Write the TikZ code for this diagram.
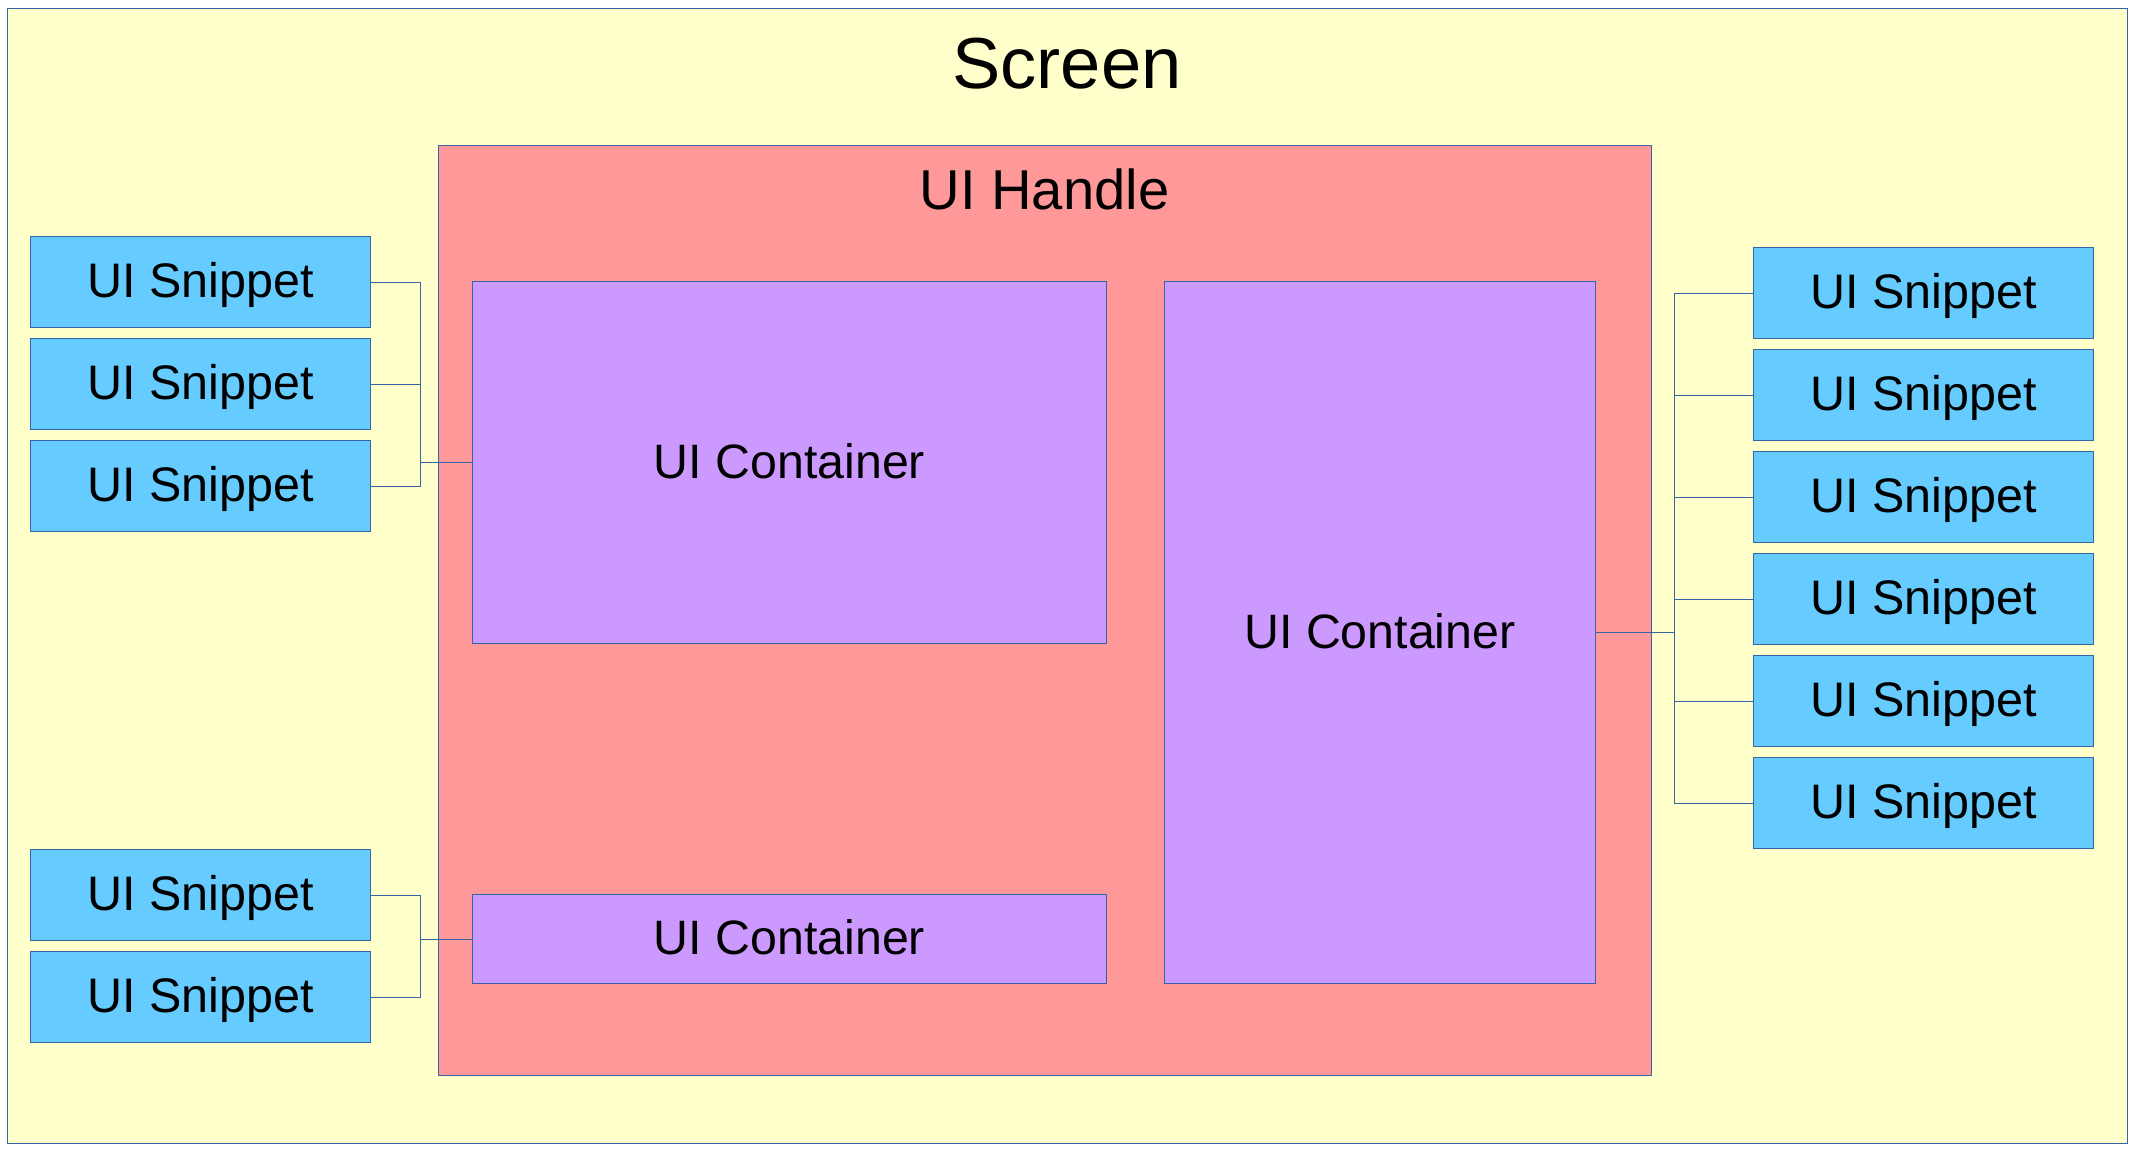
\documentclass[tikz,border=0pt]{standalone}
\usepackage{fontspec}
\setmainfont{Liberation Sans}
\definecolor{screenfill}{HTML}{FFFFCC}
\definecolor{handlefill}{HTML}{FF9999}
\definecolor{contfill}{HTML}{CC99FF}
\definecolor{snipfill}{HTML}{66CCFF}
\definecolor{edge}{HTML}{3465A4}
\tikzset{
  box/.style={rectangle, draw=edge, line width=1pt, inner sep=0pt, anchor=north west},
  snippet/.style={box, fill=snipfill, minimum width=340pt, minimum height=91pt,
     font=\fontsize{48.5pt}{54pt}\selectfont, text height=30pt, text depth=0pt},
  container/.style={box, fill=contfill, font=\fontsize{48.3pt}{54pt}\selectfont, text height=31pt, text depth=0pt},
  wire/.style={draw=edge, line width=1pt},
}
\begin{document}
\begin{tikzpicture}[x=1pt, y=-1pt]
\useasboundingbox (0,0) rectangle (2139,1152);
\fill[white] (0,0) rectangle (2139,1152);
% Screen
\node[box, fill=screenfill, minimum width=2120pt, minimum height=1135pt] (screen) at (7,8) {};
\node[anchor=base, font=\fontsize{72.3pt}{80pt}\selectfont, inner sep=0pt] (screentitle) at (1067,88) {Screen};
% UI Handle
\node[box, fill=handlefill, minimum width=1213pt, minimum height=930pt] (handle) at (438,145) {};
\node[anchor=base, font=\fontsize{56.2pt}{62pt}\selectfont, inner sep=0pt] (handletitle) at (1044.5,209) {UI Handle};
% Containers
\node[container, minimum width=634pt, minimum height=362pt] (c1) at (472,281) {UI Container};
\node[container, minimum width=634pt, minimum height=89pt] (c2) at (472,894) {UI Container};
\node[container, minimum width=431pt, minimum height=702pt] (c3) at (1164,281) {UI Container};
% Left snippets
\node[snippet] (l1) at (30,236) {UI Snippet};
\node[snippet] (l2) at (30,338) {UI Snippet};
\node[snippet] (l3) at (30,440) {UI Snippet};
\node[snippet] (l4) at (30,849) {UI Snippet};
\node[snippet] (l5) at (30,951) {UI Snippet};
% Right snippets
\node[snippet] (r1) at (1753,247) {UI Snippet};
\node[snippet] (r2) at (1753,349) {UI Snippet};
\node[snippet] (r3) at (1753,451) {UI Snippet};
\node[snippet] (r4) at (1753,553) {UI Snippet};
\node[snippet] (r5) at (1753,655) {UI Snippet};
\node[snippet] (r6) at (1753,757) {UI Snippet};
% Connectors
\coordinate (lb) at (420,0);
\coordinate (rb) at (1674,0);
\foreach \s in {l1,l2,l3} \draw[wire] (\s.east) -| (lb |- c1.west) -- (c1.west);
\foreach \s in {l4,l5} \draw[wire] (\s.east) -| (lb |- c2.west) -- (c2.west);
\foreach \s in {r1,r2,r3,r4,r5,r6} \draw[wire] (\s.west) -| (rb |- c3.east) -- (c3.east);
\end{tikzpicture}
\end{document}
